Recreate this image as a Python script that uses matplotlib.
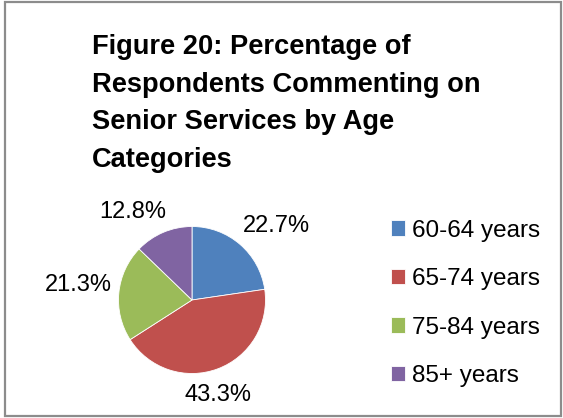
import matplotlib
matplotlib.use("Agg")
import matplotlib.pyplot as plt
from matplotlib.patches import Rectangle

# data
categories = ["60-64 years", "65-74 years", "75-84 years", "85+ years"]
percentages = [22.7, 43.3, 21.3, 12.8]
colors = ["#4F81BD", "#C0504D", "#9BBB59", "#8064A2"]
title = "Figure 20: Percentage of\nRespondents Commenting on\nSenior Services by Age\nCategories"

# label placement (in pie radius units), tuned by eye
label_xy = [(1.15, 1.0), (0.35, -1.29), (-1.55, 0.2), (-0.80, 1.20)]

plt.rcParams["font.family"] = ["Liberation Sans", "DejaVu Sans"]

W, H = 563, 418
fig = plt.figure(figsize=(W / 100, H / 100), dpi=100)

# outer frame
fig.patches.append(Rectangle((5 / W, 1 - 416 / H), 556 / W, 414 / H,
                             transform=fig.transFigure, fill=False,
                             edgecolor="#8C8C8C", linewidth=1.6))

fig.text(92 / W, 1 - 34 / H, title, ha="left", va="top", fontsize=19.6,
         fontweight="bold", linespacing=1.58, color="black")

ax = fig.add_axes([118.5 / W, (418 - 373.5) / H, 147 / W, 147 / H])
wedges, texts, autotexts = ax.pie(
    percentages, colors=colors, startangle=90, counterclock=False,
    autopct="%.1f%%", pctdistance=1.3,
    wedgeprops=dict(edgecolor="white", linewidth=0.6),
)
for t, (x, y) in zip(autotexts, label_xy):
    t.set_position((x, y))
    t.set_fontsize(17)
    t.set_ha("center")
    t.set_va("center")
ax.set_xlim(-1, 1)
ax.set_ylim(-1, 1)
ax.set_aspect("equal")

fig.legend(wedges, categories, loc="upper left",
           bbox_to_anchor=(381 / W, 1 - 210 / H), frameon=False,
           fontsize=17.5, handlelength=0.58, handleheight=0.6,
           handletextpad=0.3, labelspacing=1.09, borderaxespad=0)

fig.savefig("out.png", dpi=100)
